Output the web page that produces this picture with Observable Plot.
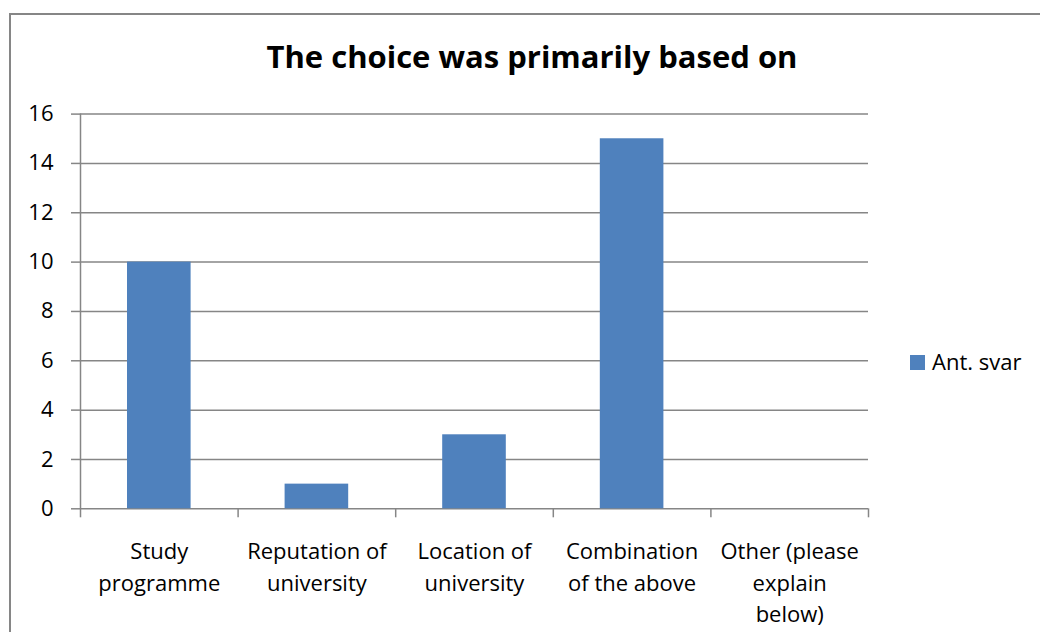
<!DOCTYPE html>
<html>
<head>
<meta charset="utf-8">
<script src="https://cdn.jsdelivr.net/npm/d3@7"></script>
<script src="https://cdn.jsdelivr.net/npm/@observablehq/plot@0.6"></script>
<style>
  html, body { margin: 0; padding: 0; background: #fff; width: 1040px; height: 632px; overflow: hidden; }
  #frame { position: absolute; left: 9px; top: 13px; width: 1100px; height: 700px; border: 2px solid #868686; box-sizing: border-box; }
  #chart { position: absolute; left: 0; top: 0; }
  #title { position: absolute; left: 0; width: 1064px; top: 41px; text-align: center; font-family: "Open Sans", sans-serif; font-weight: bold; font-size: 31px; line-height: 1; white-space: nowrap; color: #000; }
  #legend { position: absolute; left: 910px; top: 350px; font-family: "Open Sans", sans-serif; font-size: 22px; line-height: 1; color: #000; white-space: nowrap; }
  #legend .sw { position: absolute; left: 0; top: 5px; width: 15px; height: 15px; }
  #legend .lbl { position: absolute; left: 22px; top: 0; }
</style>
</head>
<body>
<div id="frame"></div>
<div id="chart"></div>
<div id="title"></div>
<div id="legend"></div>
<script>
const titleText = "The choice was primarily based on";
const categories = ["Study programme", "Reputation of university", "Location of university", "Combination of the above", "Other (please explain below)"];
const tickLabels = ["Study\nprogramme", "Reputation of\nuniversity", "Location of\nuniversity", "Combination\nof the above", "Other (please\nexplain\nbelow)"];
const values = [10, 1, 3, 15, 0];
const yTicks = [0, 2, 4, 6, 8, 10, 12, 14, 16];
const seriesName = "Ant. svar";
const barColor = "#4F81BD";
const axisColor = "#868686";

const data = categories.map((c, i) => ({category: c, label: tickLabels[i], value: values[i], i}));
const boundaries = d3.range(categories.length + 1);

const chart = Plot.plot({
  width: 1040,
  height: 632,
  marginLeft: 80,
  marginRight: 172,
  marginTop: 113.6,
  marginBottom: 123.7,
  style: {fontFamily: '"Open Sans", sans-serif', fontSize: "22px", color: "#000", background: "transparent", overflow: "visible"},
  x: {type: "linear", domain: [0, categories.length], axis: null},
  y: {domain: [0, 16], axis: null},
  marks: [
    Plot.gridY(yTicks, {stroke: axisColor, strokeOpacity: 1, strokeWidth: 1.5}),
    Plot.rectY(data, {x1: "i", x2: d => d.i + 1, y: "value", insetLeft: 47, insetRight: 47, fill: barColor}),
    Plot.ruleX([0], {stroke: axisColor, strokeWidth: 1.5}),
    Plot.axisY({ticks: yTicks, label: null, tickSize: 9, tickPadding: 18, stroke: axisColor, strokeWidth: 1.5, fill: "#000", fontSize: 22}),
    Plot.axisX({ticks: boundaries, label: null, tickSize: 9, tickFormat: () => "", stroke: axisColor, strokeWidth: 1.5}),
    Plot.text(data, {x: d => d.i + 0.5, text: "label", frameAnchor: "bottom", lineAnchor: "top", dy: 28, lineHeight: 1.43, fontSize: 22, fill: "#000"})
  ]
});
document.getElementById("chart").appendChild(chart);
document.getElementById("title").textContent = titleText;
const lg = document.getElementById("legend");
lg.innerHTML = `<div class="sw" style="background:${barColor}"></div><div class="lbl"></div>`;
lg.querySelector(".lbl").textContent = seriesName;
</script>
</body>
</html>
